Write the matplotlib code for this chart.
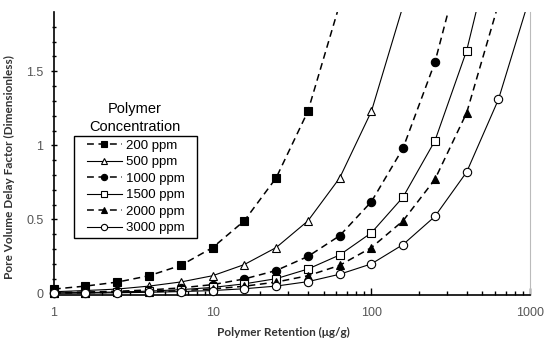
import matplotlib
matplotlib.use('Agg')
from matplotlib import pyplot as plt
from matplotlib.patches import Rectangle

# Retention values (ug/g) where markers were measured.
retention = [1, 1.58, 2.51, 3.98, 6.31, 10, 15.8, 25.1, 39.8, 63.1, 100, 158, 251, 398, 631]

labels = ['200 ppm', '500 ppm', '1000 ppm', '1500 ppm', '2000 ppm', '3000 ppm']
delay_200 = [0.03, 0.05, 0.077, 0.12, 0.19, 0.31, 0.49, 0.78, 1.23]
delay_500 = [0.012, 0.02, 0.03, 0.05, 0.078, 0.12, 0.195, 0.31, 0.49, 0.78, 1.23]
delay_1000 = [0.006, 0.01, 0.015, 0.024, 0.038, 0.06, 0.098, 0.155, 0.25, 0.39, 0.62, 0.98, 1.56]
delay_1500 = [0.004, 0.0065, 0.01, 0.016, 0.026, 0.041, 0.065, 0.10, 0.165, 0.26, 0.41, 0.65, 1.03, 1.64]
delay_2000 = [0.003, 0.005, 0.008, 0.012, 0.019, 0.031, 0.049, 0.077, 0.12, 0.19, 0.31, 0.49, 0.77, 1.22]
delay_3000 = [0.002, 0.003, 0.005, 0.008, 0.013, 0.02, 0.032, 0.05, 0.08, 0.13, 0.2, 0.33, 0.52, 0.82, 1.31]

# Where each curve leaves the top of the plot.
exit_retention = [61, 154, 304, 456, 610, 930]
exit_delay = 1.9

series = [delay_200, delay_500, delay_1000, delay_1500, delay_2000, delay_3000]
markers = ['s', '^', 'o', 's', '^', 'o']
filled = [True, False, True, False, True, False]
dashed = [True, False, True, False, True, False]

plt.rcParams['font.family'] = ['Liberation Sans', 'DejaVu Sans']

fig = plt.figure(figsize=(5.5, 3.43), dpi=100)
ax = fig.add_axes([0.098, 0.14, 0.866, 0.825])

handles = []
for i, vals in enumerate(series):
    xs = retention[:len(vals)]
    ls = (0, (4.5, 3)) if dashed[i] else '-'
    lw = 1.1 if dashed[i] else 0.8
    # curve through the points and on to the top edge
    ax.plot(xs + [exit_retention[i]], vals + [exit_delay], color='black', ls=ls, lw=lw,
            zorder=2, clip_on=True)
    ax.plot(xs, vals, ls='none', marker=markers[i], ms=5.5 if markers[i] == 's' else 6,
            mfc='black' if filled[i] else 'white', mec='black', mew=0.8, zorder=3,
            clip_on=False)
    h, = ax.plot([], [], color='black', ls=ls, lw=lw, marker=markers[i], ms=4.5,
                 mfc='black' if filled[i] else 'white', mec='black', mew=0.8)
    handles.append(h)

ax.set_xscale('log')
ax.set_xlim(1, 1000)
ax.set_ylim(-0.01, 1.9)
ax.set_yticks([0, 0.5, 1, 1.5])
ax.set_yticklabels(['0', '0.5', '1', '1.5'])
ax.set_yticks([i / 10 for i in range(19)], minor=True)
ax.set_xticks([1, 10, 100, 1000])
ax.set_xticklabels(['1', '10', '100', '1000'])

ax.spines['top'].set_visible(False)
ax.spines['right'].set_color('#bbbbbb')
ax.spines['left'].set_linewidth(1.2)
ax.spines['bottom'].set_linewidth(1.2)
ax.tick_params(axis='both', which='major', direction='in', length=5, width=1,
               labelsize=9, labelcolor='#555555', pad=9)
ax.tick_params(axis='both', which='minor', direction='in', length=3, width=1)
ax.tick_params(axis='y', which='both', direction='inout', pad=5)

ax.set_xlabel('Polymer Retention (\u03bcg/g)', fontsize=8.5, fontweight='bold',
              color='#333333', family=['Lato', 'DejaVu Sans'])
ax.set_ylabel('Pore Volume Delay Factor (Dimensionless)', fontsize=8.5, fontweight='bold',
              color='#333333', family=['Lato', 'DejaVu Sans'])
ax.xaxis.set_label_coords(0.481, -0.113)
ax.yaxis.set_label_coords(-0.082, 0.452)

# legend entries without frame, box drawn separately (it is wider than the default one)
leg = ax.legend(handles, labels, loc='upper left', bbox_to_anchor=(0.07, 0.549),
                frameon=False, fontsize=9.5, handlelength=2.6, labelspacing=0.32,
                borderpad=0, handletextpad=0.3, borderaxespad=0)
ax.add_patch(Rectangle((0.042, 0.201), 0.258, 0.361, transform=ax.transAxes,
                       facecolor='white', edgecolor='black', lw=1.0, zorder=4))
leg.set_zorder(5)
ax.text(0.17, 0.625, 'Polymer\nConcentration', transform=ax.transAxes, ha='center',
        va='center', fontsize=10.5, linespacing=1.3)

fig.savefig('out.png', dpi=100)
